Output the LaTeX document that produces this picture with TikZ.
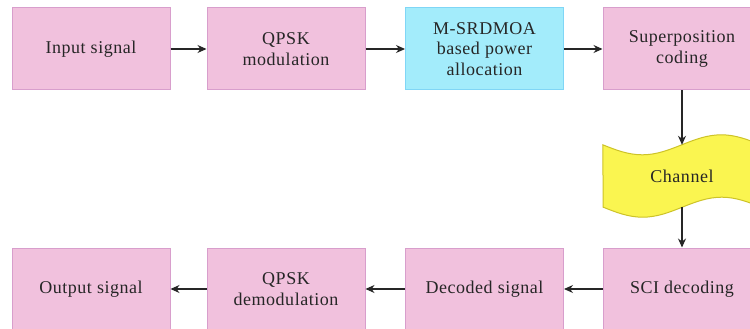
\documentclass[tikz,border=0pt]{standalone}
\usepackage{fontspec}
\setmainfont{Liberation Serif}[LetterSpace=3]
\usetikzlibrary{arrows.meta}
\definecolor{pinkfill}{RGB}{241,193,221}
\definecolor{pinkline}{RGB}{216,158,204}
\definecolor{bluefill}{RGB}{163,236,251}
\definecolor{blueline}{RGB}{128,214,246}
\definecolor{yellowfill}{RGB}{250,245,80}
\definecolor{yellowline}{RGB}{205,195,40}
\tikzset{
  block/.style={draw=pinkline, fill=pinkfill, line width=1pt, minimum width=158pt,
    minimum height=82pt, align=center, inner sep=0pt,
    font=\fontsize{18}{20.5}\selectfont, text=black!85},
  bluebox/.style={block, draw=blueline, fill=bluefill},
  channeltext/.style={minimum width=158pt, minimum height=62pt, inner sep=0pt,
    font=\fontsize{18}{20.5}\selectfont, text=black!85},
  wave/.style={draw=yellowline, fill=yellowfill, line width=1pt},
  flow/.style={-{Stealth[length=9pt,width=8pt]}, line width=1.2pt, black!85}
}
\begin{document}
\begin{tikzpicture}[x=1pt,y=-1pt]
  \clip (0,0) rectangle (750,329);
  \fill[white] (0,0) rectangle (750,329);
  % transmitter chain
  \node[block]    (in)   at (91,49)  {Input signal};
  \node[block]    (qpsk) at (286,49) {QPSK\\modulation};
  \node[bluebox]  (pa)   at (484.5,49) {M-SRDMOA\\based power\\allocation};
  \node[block]    (sc)   at (682,49) {Superposition\\coding};
  % channel: wavy banner behind the label node
  \node[channeltext] (ch) at (682,176) {};
  \path[wave] (ch.north west)
      sin ++(39.5,10) cos ++(39.5,-10) sin ++(39.5,-10) cos ++(39.5,10)
      -- (ch.south east)
      sin ++(-39.5,-10) cos ++(-39.5,10) sin ++(-39.5,10) cos ++(-39.5,-10)
      -- cycle;
  \node[channeltext] at (ch.center) {Channel};
  % receiver chain
  \node[block]    (sci)  at (682,289) {SCI decoding};
  \node[block]    (dec)  at (484.5,289) {Decoded signal};
  \node[block]    (qd)   at (286,289) {QPSK\\demodulation};
  \node[block]    (out)  at (91,289) {Output signal};
  % connectors
  \draw[flow] (in) -- (qpsk);
  \draw[flow] (qpsk) -- (pa);
  \draw[flow] (pa) -- (sc);
  \draw[flow] (sc) -- (ch);
  \draw[flow] (ch) -- (sci);
  \draw[flow] (sci) -- (dec);
  \draw[flow] (dec) -- (qd);
  \draw[flow] (qd) -- (out);
\end{tikzpicture}
\end{document}
